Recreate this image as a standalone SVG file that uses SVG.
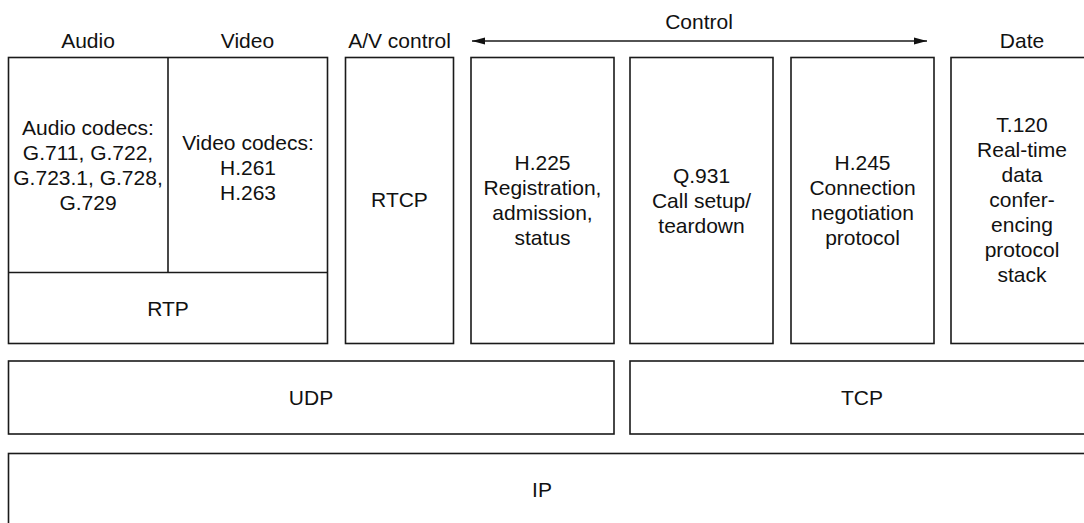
<svg xmlns="http://www.w3.org/2000/svg" width="1084" height="523" viewBox="0 0 1084 523">
<style>
  .box{fill:#fff;stroke:#1a1a1a;stroke-width:1.6}
  .ln{stroke:#1a1a1a;stroke-width:1.6;fill:none}
  text{font-family:"Liberation Sans",Arial,Helvetica,sans-serif;font-size:21px;fill:#111;text-anchor:middle}
</style>
<defs>
  <marker id="ah" markerUnits="userSpaceOnUse" markerWidth="14" markerHeight="8" refX="13" refY="4" orient="auto-start-reverse">
    <path d="M0,0.5 L13,4 L0,7.5 Z" fill="#111"/>
  </marker>
</defs>
<rect width="1084" height="523" fill="#fff"/>

<g id="labels">
  <text x="88" y="48">Audio</text>
  <text x="247.5" y="48">Video</text>
  <text x="399.5" y="48">A/V control</text>
  <text x="699" y="29">Control</text>
  <text x="1022" y="48">Date</text>
</g>

<g id="connectors">
  <line class="ln" x1="472" y1="41" x2="927" y2="41" marker-start="url(#ah)" marker-end="url(#ah)"/>
</g>

<g id="media">
  <rect class="box" x="8.5" y="57.5" width="319" height="286"/>
  <line class="ln" x1="168" y1="57.5" x2="168" y2="272.5"/>
  <line class="ln" x1="8.5" y1="272.5" x2="327.5" y2="272.5"/>
</g>
<g id="audio-codecs">
  <text x="88" y="135">Audio codecs:</text>
  <text x="88" y="160">G.711, G.722,</text>
  <text x="88" y="185">G.723.1, G.728,</text>
  <text x="88" y="210">G.729</text>
</g>
<g id="video-codecs">
  <text x="248" y="150">Video codecs:</text>
  <text x="248" y="175">H.261</text>
  <text x="248" y="200">H.263</text>
</g>
<g id="rtp">
  <text x="168" y="316">RTP</text>
</g>

<g id="rtcp">
  <rect class="box" x="345.5" y="57.5" width="108" height="286"/>
  <text x="399.5" y="207">RTCP</text>
</g>

<g id="h225">
  <rect class="box" x="471" y="57.5" width="143" height="286"/>
  <text x="542.5" y="170">H.225</text>
  <text x="542.5" y="195">Registration,</text>
  <text x="542.5" y="220">admission,</text>
  <text x="542.5" y="245">status</text>
</g>

<g id="q931">
  <rect class="box" x="630" y="57.5" width="143" height="286"/>
  <text x="701.5" y="182.5">Q.931</text>
  <text x="701.5" y="207.5">Call setup/</text>
  <text x="701.5" y="232.5">teardown</text>
</g>

<g id="h245">
  <rect class="box" x="791" y="57.5" width="143" height="286"/>
  <text x="862.5" y="170">H.245</text>
  <text x="862.5" y="195">Connection</text>
  <text x="862.5" y="220">negotiation</text>
  <text x="862.5" y="245">protocol</text>
</g>

<g id="t120">
  <rect class="box" x="951" y="57.5" width="143" height="286"/>
  <text x="1022" y="132">T.120</text>
  <text x="1022" y="157">Real-time</text>
  <text x="1022" y="182">data</text>
  <text x="1022" y="207">confer-</text>
  <text x="1022" y="232">encing</text>
  <text x="1022" y="257">protocol</text>
  <text x="1022" y="282">stack</text>
</g>

<g id="udp">
  <rect class="box" x="8.5" y="361" width="605.5" height="73"/>
  <text x="311" y="405">UDP</text>
</g>

<g id="tcp">
  <rect class="box" x="630" y="361" width="464" height="73"/>
  <text x="862" y="405">TCP</text>
</g>

<g id="ip">
  <rect class="box" x="8.5" y="453.5" width="1085.5" height="80"/>
  <text x="542" y="497">IP</text>
</g>
</svg>
